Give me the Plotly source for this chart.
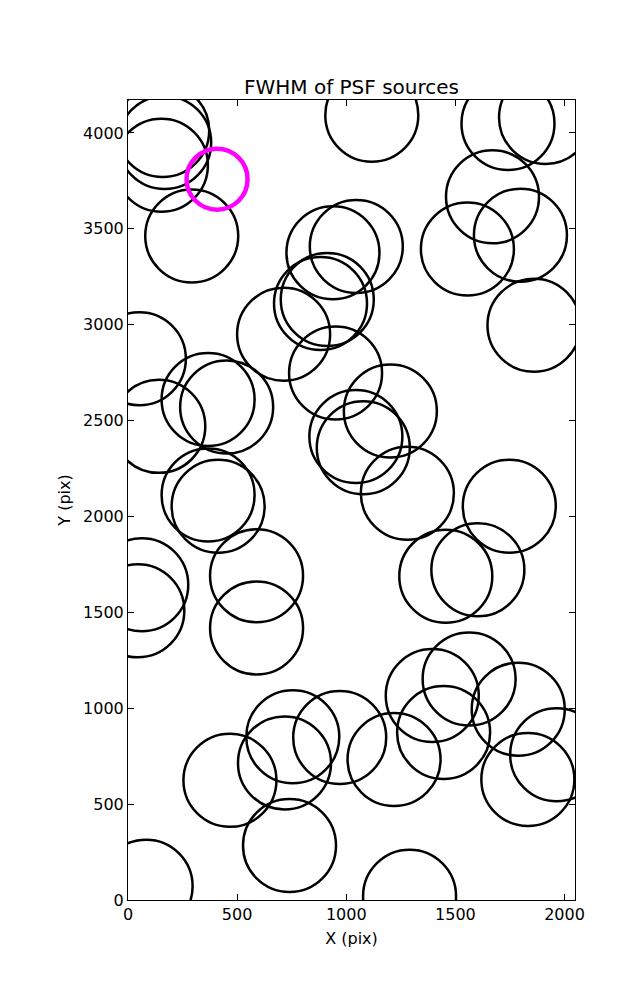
import plotly.graph_objects as go

# Source positions (pix)
src_x = [159, 168, 153, 292, 1117, 1741, 1913, 1670, 1555, 1798, 1860,
         1046, 939, 882, 913, 713, 951,
         1044, 1078, 1202, 1280, 1456, 1603, 1747,
         52, 141, 367, 452, 367, 413, 63, 45, 589, 589,
         83, 1290, 467, 740, 755, 717, 970, 1219, 1394, 1563, 1446, 1788, 1964, 1832]
src_y = [4013, 3950, 3832, 3463, 4093, 4050, 4081, 3667, 3395, 3467, 2997,
         3408, 3375, 3111, 3132, 2950, 2748,
         2417, 2358, 2550, 2121, 1689, 1722, 2053,
         2823, 2470, 2610, 2571, 2112, 2053, 1644, 1508, 1691, 1418,
         72, 20, 624, 284, 851, 715, 848, 733, 1067, 1152, 874, 995, 757, 629]

# Highlighted source
hi_x = [408]
hi_y = [3759]

x_ticks = [0, 500, 1000, 1500, 2000]
y_ticks = [0, 500, 1000, 1500, 2000, 2500, 3000, 3500, 4000]

fig = go.Figure()
fig.add_trace(go.Scatter(
    x=src_x, y=src_y, mode="markers",
    marker=dict(symbol="circle-open", size=93, color="black",
                line=dict(color="black", width=2.5)),
    hoverinfo="skip", showlegend=False, cliponaxis=True))
fig.add_trace(go.Scatter(
    x=hi_x, y=hi_y, mode="markers",
    marker=dict(symbol="circle-open", size=61, color="#FF00FF",
                line=dict(color="#FF00FF", width=4.5)),
    hoverinfo="skip", showlegend=False, cliponaxis=True))

font = "DejaVu Sans"
axis_common = dict(showgrid=False, zeroline=False, showline=True, linecolor="black",
                   linewidth=1, mirror="allticks", ticks="inside", ticklen=6,
                   tickcolor="black", tickwidth=1,
                   tickfont=dict(family=font, size=16, color="black"))

# page body has an 8px margin, so the figure is offset by 8px
fig.update_layout(
    width=629, height=992,
    margin=dict(l=120, r=62, t=92, b=100),
    paper_bgcolor="white", plot_bgcolor="white",
    font=dict(family=font, color="black"),
    title=dict(text="FWHM of PSF sources", x=0.5, xanchor="center",
               xref="paper", y=1, yref="paper", yanchor="bottom",
               pad=dict(b=6), font=dict(family=font, size=20, color="black")),
    xaxis=dict(range=[0, 2048], tickvals=x_ticks, ticktext=[str(v) for v in x_ticks],
               title=dict(text="X (pix)", font=dict(family=font, size=16), standoff=9),
               **axis_common),
    yaxis=dict(range=[0, 4172], tickvals=y_ticks, ticktext=[str(v) for v in y_ticks],
               title=dict(text="Y (pix)", font=dict(family=font, size=16), standoff=8),
               **axis_common),
)

fig.write_html("out.html")
